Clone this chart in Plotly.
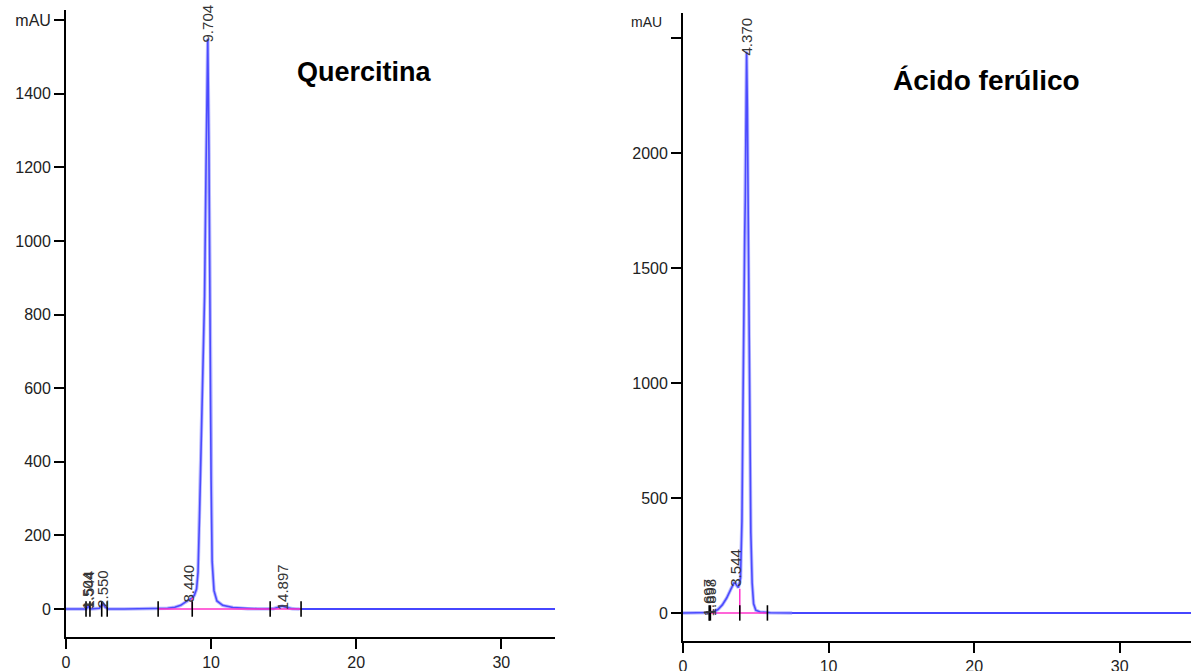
import numpy as np
import plotly.graph_objects as go

# ---------------- data ----------------
# Quercitina chromatogram (time in min, absorbance in mAU)
q_time = [0, 1.0, 1.40, 1.50, 1.55, 1.62, 1.75, 2.30, 2.45, 2.55, 2.70, 2.90, 4.0, 6.3,
          7.0, 7.5, 7.9, 8.2, 8.44, 8.7, 8.85, 9.0, 9.1, 9.2, 9.3, 9.4, 9.48, 9.55, 9.65,
          9.77, 9.85, 9.93, 10.0, 10.07, 10.2, 10.4, 10.8, 11.5, 12.5, 13.5, 14.3, 14.6,
          14.897, 15.2, 15.6, 16.1, 18, 22, 25, 33.7]
q_mau = [0, 0, 0, 6, 10, 3, 0, 2, 8, 14, 5, 0, 0, 0,
         2, 5, 10, 18, 25, 30, 38, 55, 100, 250, 420, 600, 680, 850, 1200,
         1550, 1250, 700, 350, 130, 50, 22, 10, 4, 1, 0, 1, 5,
         8, 4, 1, 0, 0, 0, 0, 0]
q_peak_rt = [1.45, 1.58, 2.55, 8.44, 9.77, 14.897]
q_peak_h = [10, 12, 14, 30, 1550, 8]
q_peak_lbl = ["1.504", "1.544", "2.550", "8.440", "9.704", "14.897"]
q_events = [1.38, 1.65, 2.46, 2.84, 6.35, 8.7, 14.07, 16.2]
q_base_t = [6.35, 8.7, 8.7, 8.7, 16.2]
q_base_v = [0, 0, 30, 0, 0]
q_pale = [(0, 17.5), (22.5, 25)]

# Ácido ferúlico chromatogram
f_time = [0, 1.6, 1.7, 1.9, 2.1, 2.4, 2.7, 3.0, 3.3, 3.5, 3.6, 3.8, 3.95, 4.05, 4.12,
          4.18, 4.24, 4.28, 4.33, 4.37, 4.42, 4.5, 4.58, 4.66, 4.75, 4.85, 5.0, 5.3,
          6.0, 7.5, 35]
f_mau = [0, 0, 1, 2, 5, 15, 35, 65, 105, 130, 128, 110, 150, 400, 900,
         1400, 1650, 1800, 2200, 2440, 2200, 1500, 800, 350, 130, 40, 12, 4,
         1, 0, 0]
f_peak_rt = [1.72, 1.86, 3.55, 4.37]
f_peak_h = [2, 3, 130, 2440]
f_peak_lbl = ["1.697", "1.898", "3.544", "4.370"]
f_events = [1.8, 1.88, 3.9, 5.8]
f_base_t = [1.75, 3.9, 3.9, 3.9, 5.8]
f_base_v = [0, 0, 105, 0, 0]
f_pale = [(0, 7.5)]

# ---------------- figure ----------------
W, H = 1192, 671
fig = go.Figure()

BLUE = "#0a0aff"
PALE = "rgba(130,130,255,0.55)"
MAG = "#ff33cc"
FONT = "Liberation Sans, Arial"

# geometry of the two panels (pixels)
q_px = (66, 555, 10, 637)     # left, right, top, bottom
f_px = (683, 1191, 13, 641)
q_xr, q_yr = [0, 33.7], [-76, 1628]
f_xr, f_yr = [0, 34.9], [-122, 2609]


def add_panel(t, v, pale, base_t, base_v, events, pk_rt, pk_h, pk_lbl, xa, ya,
              px, xr, yr, xminor, yminor, xmajor, ymajor):
    t = np.array(t, float)
    v = np.array(v, float)
    fig.add_trace(go.Scatter(x=t, y=v, mode="lines", line=dict(color=BLUE, width=1.6),
                             xaxis=xa, yaxis=ya, hoverinfo="skip"))
    for a, b in pale:
        m = (t >= a) & (t <= b)
        fig.add_trace(go.Scatter(x=t[m], y=v[m], mode="lines",
                                 line=dict(color=PALE, width=3.5),
                                 xaxis=xa, yaxis=ya, hoverinfo="skip"))
    fig.add_trace(go.Scatter(x=base_t, y=base_v, mode="lines",
                             line=dict(color=MAG, width=1.5),
                             xaxis=xa, yaxis=ya, hoverinfo="skip"))
    fig.add_trace(go.Scatter(x=events, y=[0] * len(events), mode="markers",
                             marker=dict(symbol="line-ns", size=11,
                                         line=dict(color="black", width=1.6)),
                             xaxis=xa, yaxis=ya, hoverinfo="skip"))
    for rt, h, lbl in zip(pk_rt, pk_h, pk_lbl):
        fig.add_annotation(x=rt, y=h, xref=xa, yref=ya.replace("axis", ""),
                           text=lbl, textangle=-90, showarrow=False,
                           xanchor="center", yanchor="bottom", yshift=-6,
                           font=dict(family=FONT, size=15, color="#333"))
    # minor tick marks drawn just outside the axis lines
    ux = (px[1] - px[0]) / (xr[1] - xr[0])   # px per x unit
    uy = (px[3] - px[2]) / (yr[1] - yr[0])   # px per y unit
    xm = [x for x in xminor if x % xmajor != 0]
    ym = [y for y in yminor if y % ymajor != 0]
    L = 7
    fig.add_trace(go.Scatter(x=xm, y=[yr[0] - (L / 2 + 0.8) / uy] * len(xm), mode="markers",
                             cliponaxis=False,
                             marker=dict(symbol="line-ns", size=L, line=dict(color="black", width=1.7)),
                             xaxis=xa, yaxis=ya, hoverinfo="skip"))
    fig.add_trace(go.Scatter(x=[xr[0] - (L / 2 + 0.8) / ux] * len(ym), y=ym, mode="markers",
                             cliponaxis=False,
                             marker=dict(symbol="line-ew", size=L, line=dict(color="black", width=1.7)),
                             xaxis=xa, yaxis=ya, hoverinfo="skip"))


add_panel(q_time, q_mau, q_pale, q_base_t, q_base_v, q_events,
          q_peak_rt, q_peak_h, q_peak_lbl, "x", "y",
          q_px, q_xr, q_yr, list(range(0, 34, 2)), list(range(-50, 1601, 50)), 10, 200)
add_panel(f_time, f_mau, f_pale, f_base_t, f_base_v, f_events,
          f_peak_rt, f_peak_h, f_peak_lbl, "x2", "y2",
          f_px, f_xr, f_yr, list(range(0, 35, 2)), list(range(-100, 2601, 100)), 10, 500)

axis_common = dict(showline=True, linecolor="black", linewidth=1.8, ticks="outside",
                   tickcolor="black", tickwidth=1.8, ticklen=10, showgrid=False,
                   zeroline=False, automargin=False, tickmode="linear",
                   tickfont=dict(family=FONT, size=16, color="#222"))


def dom(px):
    return [px[0] / W, px[1] / W], [(H - px[3]) / H, (H - px[2]) / H]


q_xd, q_yd = dom(q_px)
f_xd, f_yd = dom(f_px)

fig.update_layout(
    width=W, height=H, margin=dict(l=0, r=0, t=0, b=0),
    paper_bgcolor="white", plot_bgcolor="white", showlegend=False,
    xaxis=dict(domain=q_xd, range=q_xr, tick0=0, dtick=10, anchor="y", **axis_common),
    yaxis=dict(domain=q_yd, range=q_yr, tick0=0, dtick=200,
               labelalias={"1600": "mAU"}, anchor="x", **axis_common),
    xaxis2=dict(domain=f_xd, range=f_xr, tick0=0, dtick=10, anchor="y2", **axis_common),
    yaxis2=dict(domain=f_yd, range=f_yr, tick0=0, dtick=500,
                labelalias={"2500": " "}, anchor="x2", **axis_common),
)

fig.add_annotation(xref="paper", yref="paper", x=364 / W, y=1 - 72 / H, text="<b>Quercitina</b>",
                   showarrow=False, xanchor="center", yanchor="middle",
                   font=dict(family=FONT, size=27, color="black"))
fig.add_annotation(xref="paper", yref="paper", x=986 / W, y=1 - 80 / H, text="<b>Ácido ferúlico</b>",
                   showarrow=False, xanchor="center", yanchor="middle",
                   font=dict(family=FONT, size=28, color="black"))
fig.add_annotation(xref="paper", yref="paper", x=664 / W, y=1 - 22 / H, text="mAU",
                   showarrow=False, xanchor="right", yanchor="middle",
                   font=dict(family=FONT, size=14, color="#222"))

fig.write_html("out.html", config={"displayModeBar": False},
               post_script="document.body.style.margin='0px';document.body.style.overflow='hidden';")
